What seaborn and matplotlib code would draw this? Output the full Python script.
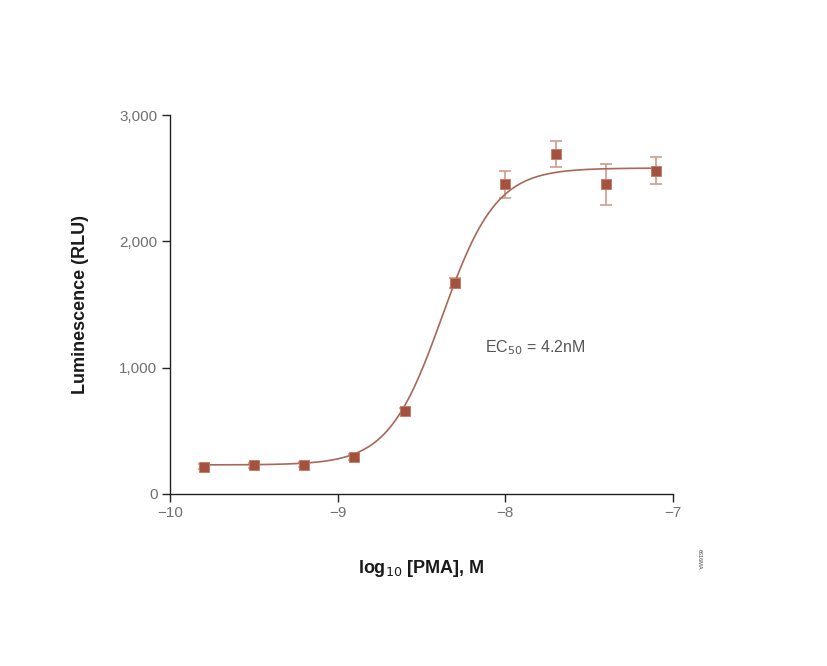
import numpy as np
import pandas as pd
import matplotlib
matplotlib.use("Agg")
import matplotlib.pyplot as plt
import seaborn as sns

# data
log_pma = [-9.8, -9.5, -9.2, -8.9, -8.6, -8.3, -8.0, -7.7, -7.4, -7.1]
rlu = [214, 228, 230, 293, 657, 1671, 2450, 2690, 2450, 2560]
rlu_err = [20, 20, 20, 25, 25, 40, 110, 105, 160, 105]

# 4-parameter logistic fit shown as the curve
fit_bottom = 230
fit_top = 2580
fit_log_ec50 = np.log10(4.2e-9)
fit_hill = 2.7

sns.set_style("ticks")
plt.rcParams["font.family"] = ["Liberation Sans", "DejaVu Sans"]

point_color = "#a4523e"
line_color = "#a86858"
err_color = "#d29a8a"


def main():
    df = pd.DataFrame({"x": log_pma, "y": rlu, "err": rlu_err})
    xs = np.linspace(min(log_pma), max(log_pma), 300)
    curve = pd.DataFrame({
        "x": xs,
        "y": fit_bottom + (fit_top - fit_bottom) / (1 + 10 ** ((fit_log_ec50 - xs) * fit_hill)),
    })

    fig = plt.figure(figsize=(8.28, 6.66), dpi=100)
    ax = fig.add_axes([0.2053, 0.2583, 0.6075, 0.5690])

    ax.errorbar(df["x"], df["y"], yerr=df["err"], fmt="none", ecolor=err_color,
                elinewidth=1.2, capsize=4, capthick=1.2, zorder=2)
    sns.lineplot(data=curve, x="x", y="y", color=line_color, linewidth=1.2, ax=ax, zorder=3)
    sns.scatterplot(data=df, x="x", y="y", marker="s", s=55, color=point_color,
                    edgecolor="#c07a68", linewidth=0.6, ax=ax, zorder=4)

    ax.set_xlim(-10, -7)
    ax.set_ylim(0, 3000)
    ax.set_xticks([-10, -9, -8, -7])
    ax.set_yticks([0, 1000, 2000, 3000])
    ax.set_xticklabels(["\u221210", "\u22129", "\u22128", "\u22127"])
    ax.set_yticklabels(["0", "1,000", "2,000", "3,000"])
    ax.tick_params(axis="both", direction="out", length=6, width=1.0, colors="#222222",
                   labelcolor="#707070", labelsize=11, pad=3)
    sns.despine(ax=ax)
    for sp in ("left", "bottom"):
        ax.spines[sp].set_color("#222222")
        ax.spines[sp].set_linewidth(1.0)

    label_font = {"family": ["Liberation Sans Narrow", "Liberation Sans", "DejaVu Sans"],
                  "weight": "bold", "size": 13}
    ax.set_xlabel("log$_{10}$ [PMA], M", fontdict=label_font, color="#1a1a1a", labelpad=27)
    ax.set_ylabel("Luminescence (RLU)", fontdict=label_font, color="#1a1a1a", labelpad=22)

    ax.text(-8.12, 1160, "EC$_{50}$ = 4.2nM", fontsize=11.5, color="#555555", va="center")
    fig.text(0.845, 0.16, "6616MA", rotation=270, fontsize=4, color="#444444", ha="center", va="center")

    fig.savefig("out.png", dpi=100)
    plt.close(fig)


if __name__ == "__main__":
    main()
